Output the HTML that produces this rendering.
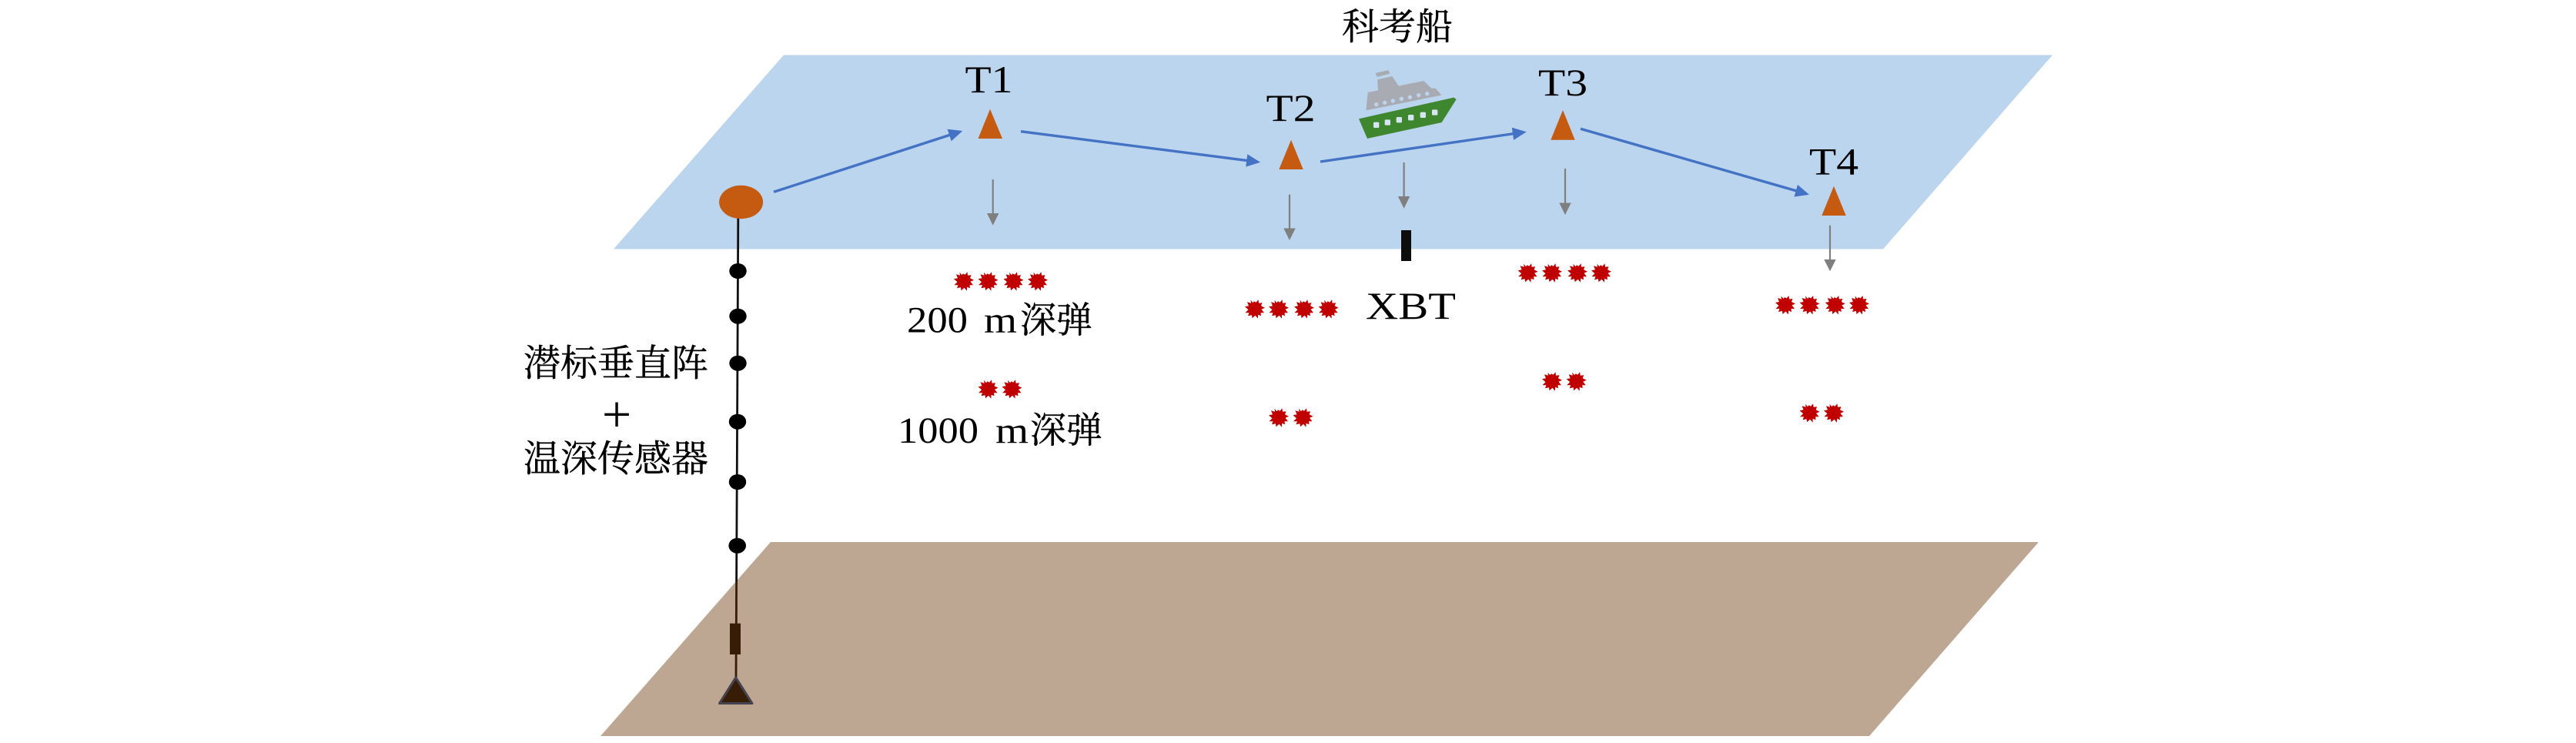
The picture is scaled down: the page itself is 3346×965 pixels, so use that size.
<!DOCTYPE html>
<html lang="zh">
<head>
<meta charset="utf-8">
<title>科考船 diagram</title>
<style>
html,body{margin:0;padding:0;background:#fff;width:3346px;height:965px;overflow:hidden}
svg{display:block}
.l{font-family:"Liberation Serif","Noto Serif CJK SC",serif;font-size:50px;fill:#000}
.c{font-family:"Liberation Serif","Noto Serif CJK SC",serif;font-size:48px;fill:#000;stroke:#000;stroke-width:.4}
.n{font-family:"Liberation Serif",serif;font-size:48px;fill:#000}
</style>
</head>
<body>
<svg xmlns="http://www.w3.org/2000/svg" width="3346" height="965" viewBox="0 0 3346 965">
<defs>
<marker id="b" markerUnits="userSpaceOnUse" markerWidth="20" markerHeight="20" viewBox="-2 -10 20 20" refX="0" refY="0" orient="auto">
<path d="M-2,-8.2 L16,0 L-2,8.2 z" fill="#4472C4"/>
</marker>
<polygon id="s" fill="#C00000" transform="translate(0,-0.7)" points="-1,-10 1.5,-8.5 4.5,-12 5,-7.5 9.5,-8 8,-4 13,-1.5 8.5,0.5 12,5 7.5,5 8,9 4,7.5 4,12.5 0.5,8.5 -3.5,12 -4,8 -9,9 -7.5,5 -12.5,5 -8.5,1 -13,-3 -8,-4 -10,-9 -5,-7.5 -5.5,-11.5 -2.5,-8"/>
</defs>

<rect width="3346" height="965" fill="#fff"/>
<polygon points="1018,71.5 2666,71.5 2446,323.5 797,323.5" fill="#BBD5EE"/>
<polygon points="1001,704 2648,704 2428,956 780,956" fill="#BDA793"/>

<!-- mooring -->
<line x1="958.8" y1="283" x2="956.6" y2="756" stroke="#111" stroke-width="2.8"/>
<line x1="956.6" y1="755" x2="956" y2="880" stroke="#371D06" stroke-width="2.8"/>
<ellipse cx="962.6" cy="262.5" rx="28.5" ry="21.7" fill="#C55A11"/>
<ellipse cx="958.5" cy="352" rx="11.2" ry="10" fill="#000"/>
<ellipse cx="958.5" cy="410.7" rx="11.2" ry="10" fill="#000"/>
<ellipse cx="958.5" cy="471.7" rx="11.2" ry="10" fill="#000"/>
<ellipse cx="958" cy="547.7" rx="11.2" ry="10" fill="#000"/>
<ellipse cx="958" cy="626" rx="11.2" ry="10" fill="#000"/>
<ellipse cx="957.7" cy="708.7" rx="11.3" ry="10" fill="#000"/>
<rect x="948" y="809.7" width="14" height="40.3" fill="#371D06"/>
<polygon points="955.7,880 977,913.5 934.5,913.5" fill="#371D06" stroke="#46424F" stroke-width="3" stroke-linejoin="round"/>

<!-- targets -->
<polygon points="1286,141.7 1302,180 1270.5,180" fill="#C55A11"/>
<polygon points="1677,181.7 1692.7,220 1661.3,220" fill="#C55A11"/>
<polygon points="2030,143 2045.7,181.7 2014.3,181.7" fill="#C55A11"/>
<polygon points="2382,241.7 2397.7,280 2366.3,280" fill="#C55A11"/>

<!-- blue arrows -->
<g stroke="#4472C4" stroke-width="3.4" fill="none">
<line x1="1005" y1="249.3" x2="1235" y2="174.9" marker-end="url(#b)"/>
<line x1="1326" y1="170.7" x2="1621.2" y2="208.7" marker-end="url(#b)"/>
<line x1="1715" y1="210" x2="1966.9" y2="173.5" marker-end="url(#b)"/>
<line x1="2053" y1="167.3" x2="2334.6" y2="248.3" marker-end="url(#b)"/>
</g>

<!-- grey arrows -->
<g stroke="#7F7F7F" stroke-width="2.2">
<line x1="1289.7" y1="233" x2="1289.7" y2="280"/>
<line x1="1675" y1="252.7" x2="1675" y2="300"/>
<line x1="1823.6" y1="211" x2="1823.6" y2="258"/>
<line x1="2033" y1="219" x2="2033" y2="266"/>
<line x1="2377" y1="292.7" x2="2377" y2="340"/>
</g>
<g fill="#7F7F7F">
<polygon points="1282,277 1297.4,277 1289.7,292.7"/>
<polygon points="1667.3,296.5 1682.7,296.5 1675,312"/>
<polygon points="1815.9,255 1831.3,255 1823.6,270.7"/>
<polygon points="2025.3,263.5 2040.7,263.5 2033,279"/>
<polygon points="2369.3,337 2384.7,337 2377,352.3"/>
</g>

<rect x="1820" y="299" width="13" height="40" fill="#0D0D0D"/>

<!-- ship -->
<g transform="translate(1760,85) scale(.3333)">
<polygon points="80,30 130,18 136,32 86,45" fill="#A9ABB3"/>
<polygon points="43,175 50,105 90,97 87,55 145,42 170,80 268,60 297,88 315,90 337,116" fill="#A9ABB3"/>
<g fill="#BBD5EE">
<circle cx="83" cy="152" r="8"/><circle cx="116" cy="145" r="8"/><circle cx="148" cy="138" r="8"/><circle cx="181" cy="130" r="8"/><circle cx="214" cy="124" r="8"/><circle cx="248" cy="116" r="8"/><circle cx="281" cy="110" r="8"/>
</g>
<polygon points="15,208 385,125 395,132 338,222 48,285" fill="#3F872E"/>
<g fill="#D5E5F2">
<rect x="72" y="221" width="22" height="22" rx="4"/><rect x="116" y="211" width="22" height="22" rx="4"/><rect x="161" y="201" width="22" height="22" rx="4"/><rect x="207" y="192" width="22" height="22" rx="4"/><rect x="254" y="182" width="22" height="22" rx="4"/><rect x="300" y="172" width="22" height="22" rx="4"/>
</g>
</g>

<!-- charges -->
<use href="#s" x="1252" y="366"/><use href="#s" x="1283.5" y="366"/><use href="#s" x="1316.5" y="366"/><use href="#s" x="1348" y="366"/>
<use href="#s" x="1283.5" y="506"/><use href="#s" x="1314.5" y="506"/>
<use href="#s" x="1630" y="402"/><use href="#s" x="1661" y="402"/><use href="#s" x="1694" y="402"/><use href="#s" x="1725.6" y="402"/>
<use href="#s" x="1661" y="543"/><use href="#s" x="1692.5" y="543"/>
<use href="#s" x="1984.6" y="355"/><use href="#s" x="2016" y="355"/><use href="#s" x="2049" y="355"/><use href="#s" x="2080" y="355"/>
<use href="#s" x="2016" y="496"/><use href="#s" x="2047.7" y="496"/>
<use href="#s" x="2319" y="396.7"/><use href="#s" x="2350.6" y="396.7"/><use href="#s" x="2383.8" y="396.7"/><use href="#s" x="2415" y="396.7"/>
<use href="#s" x="2350.6" y="537"/><use href="#s" x="2382" y="537"/>

<!-- labels -->
<text class="l" x="1253.5" y="120" textLength="62" lengthAdjust="spacingAndGlyphs">T1</text>
<text class="l" x="1644.5" y="157" textLength="64" lengthAdjust="spacingAndGlyphs">T2</text>
<text class="l" x="1998" y="124" textLength="64" lengthAdjust="spacingAndGlyphs">T3</text>
<text class="l" x="2350" y="226.7" textLength="64" lengthAdjust="spacingAndGlyphs">T4</text>
<text class="l" x="1774" y="414" textLength="117" lengthAdjust="spacingAndGlyphs">XBT</text>

<text class="c" x="1743" y="51">科考船</text>
<text class="c" x="680" y="488">潜标垂直阵</text>
<text class="c" x="680" y="612">温深传感器</text>
<text class="l" x="801" y="561" text-anchor="middle" style="font-size:68px">+</text>

<text class="n" x="1178" y="431.7" textLength="79" lengthAdjust="spacingAndGlyphs">200</text>
<text class="n" x="1278" y="431.7" textLength="43" lengthAdjust="spacingAndGlyphs">m</text>
<text class="c" x="1325" y="432" style="font-size:47px">深弹</text>
<text class="n" x="1166" y="575" textLength="105" lengthAdjust="spacingAndGlyphs">1000</text>
<text class="n" x="1293" y="575" textLength="43" lengthAdjust="spacingAndGlyphs">m</text>
<text class="c" x="1338" y="575" style="font-size:47px">深弹</text>
</svg>
</body>
</html>
